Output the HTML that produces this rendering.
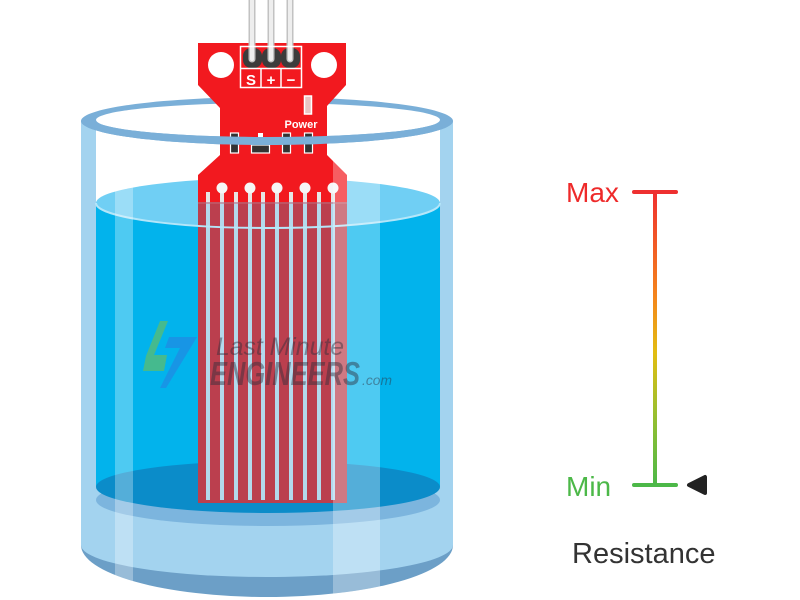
<!DOCTYPE html>
<html><head><meta charset="utf-8"><style>
html,body{margin:0;padding:0;background:#fff;}
svg{display:block;}
</style></head><body>
<svg width="800" height="600" viewBox="0 0 800 600" xmlns="http://www.w3.org/2000/svg">
<defs>
<linearGradient id="sc" gradientUnits="userSpaceOnUse" x1="0" y1="192" x2="0" y2="485">
<stop offset="0" stop-color="#ef2f2f"/>
<stop offset="0.36" stop-color="#f4861c"/>
<stop offset="0.55" stop-color="#e2bd12"/>
<stop offset="0.75" stop-color="#9cbf2e"/>
<stop offset="1" stop-color="#4cb848"/>
</linearGradient>
<clipPath id="glass"><path d="M81,121 L81,545 A186,52 0 0 0 453,545 L453,121 Z"/></clipPath>
</defs>

<!-- glass silhouette -->
<path d="M81,121 L81,545 A186,52 0 0 0 453,545 L453,121 Z" fill="#6c9fc7"/>
<path d="M81,121 L81,545 A186,32 0 0 0 453,545 L453,121 Z" fill="#a3d3ef"/>
<!-- interior above water -->
<rect x="96" y="118" width="344" height="90" fill="#ffffff"/>
<!-- rim ring (full) -->
<path d="M81,121 A186,24 0 0 1 453,121 A186,24 0 0 1 81,121 Z M96,120 A172,17 0 0 1 440,120 A172,17 0 0 1 96,120 Z" fill="#7aafd8" fill-rule="evenodd"/>

<!-- water -->
<ellipse cx="268" cy="500" rx="172" ry="26" fill="#7cb5de"/>
<rect x="96" y="203" width="344" height="284" fill="#02b3ec"/>
<ellipse cx="268" cy="487" rx="172" ry="26" fill="#0b8cc9"/>
<ellipse cx="268" cy="203" rx="172" ry="25" fill="#70cff4"/>

<!-- sensor board -->
<path d="M200,43 L346,43 L346,85 L327,106 L327,155 L347,175 L347,503 L198,503 L198,175 L220,155 L220,108 L198,85 L198,43 Z" fill="#f2191f"/>
<rect x="198" y="202" width="149" height="301" fill="#bb3f4e"/>

<!-- traces -->
<g stroke-width="4">
<g stroke="#e6e6e6">
<line x1="208" y1="192" x2="208" y2="202"/><line x1="222" y1="188" x2="222" y2="202"/>
<line x1="236" y1="192" x2="236" y2="202"/><line x1="250" y1="188" x2="250" y2="202"/>
<line x1="263" y1="192" x2="263" y2="202"/><line x1="277" y1="188" x2="277" y2="202"/>
<line x1="291" y1="192" x2="291" y2="202"/><line x1="305" y1="188" x2="305" y2="202"/>
<line x1="319" y1="192" x2="319" y2="202"/><line x1="333" y1="188" x2="333" y2="202"/>
</g>
<g stroke="#b3d9ec">
<line x1="208" y1="202" x2="208" y2="500"/><line x1="222" y1="202" x2="222" y2="500"/>
<line x1="236" y1="202" x2="236" y2="500"/><line x1="250" y1="202" x2="250" y2="500"/>
<line x1="263" y1="202" x2="263" y2="500"/><line x1="277" y1="202" x2="277" y2="500"/>
<line x1="291" y1="202" x2="291" y2="500"/><line x1="305" y1="202" x2="305" y2="500"/>
<line x1="319" y1="202" x2="319" y2="500"/><line x1="333" y1="202" x2="333" y2="500"/>
</g>
</g>
<g fill="#f6f6f6">
<circle cx="222" cy="188" r="5.5"/><circle cx="250" cy="188" r="5.5"/>
<circle cx="277" cy="188" r="5.5"/><circle cx="305" cy="188" r="5.5"/>
<circle cx="333" cy="188" r="5.5"/>
</g>
<rect x="198" y="202" width="149" height="2" fill="#c66a78" opacity="0.5"/>

<!-- water front surface line -->
<path d="M96,203 A172,25 0 0 0 440,203" fill="none" stroke="#b4e6f9" stroke-width="2"/>

<!-- glass highlight stripes -->
<g clip-path="url(#glass)" fill="#ffffff" opacity="0.3">
<rect x="115" y="150" width="18" height="460"/>
<rect x="333" y="150" width="47" height="460"/>
</g>

<!-- header details -->
<circle cx="221" cy="65" r="13" fill="#ffffff"/>
<circle cx="324" cy="65" r="13" fill="#ffffff"/>
<g fill="#3b3b3b">
<rect x="243" y="48" width="19" height="20" rx="8"/>
<rect x="262" y="48" width="19" height="20" rx="8"/>
<rect x="281" y="48" width="19" height="20" rx="8"/>
</g>
<g stroke="#c2c2c2" stroke-width="7" stroke-linecap="round">
<line x1="252" y1="-5" x2="252" y2="59"/><line x1="271" y1="-5" x2="271" y2="59"/><line x1="290" y1="-5" x2="290" y2="59"/>
</g>
<g stroke="#eeeeee" stroke-width="4" stroke-linecap="round">
<line x1="252" y1="-5" x2="252" y2="59"/><line x1="271" y1="-5" x2="271" y2="59"/><line x1="290" y1="-5" x2="290" y2="59"/>
</g>
<g fill="none" stroke="#ffffff" stroke-width="1.5">
<rect x="240.5" y="46.5" width="61" height="41"/>
<line x1="240" y1="68.5" x2="302" y2="68.5"/>
<line x1="261" y1="68" x2="261" y2="88"/>
<line x1="281" y1="68" x2="281" y2="88"/>
</g>
<g fill="#ffffff" font-family="Liberation Sans, sans-serif" font-weight="bold" font-size="15" text-anchor="middle">
<text x="251" y="85">S</text>
<text x="271" y="85">+</text>
<text x="291" y="85">−</text>
</g>
<rect x="304.5" y="96" width="7" height="18" fill="#e9c4c4" stroke="#ffffff" stroke-width="1.5"/>
<text x="301" y="128" fill="#ffffff" font-family="Liberation Sans, sans-serif" font-weight="bold" font-size="11" text-anchor="middle">Power</text>
<g fill="#333" stroke="#ffffff" stroke-width="1.2">
<rect x="230.5" y="133" width="8" height="20"/>
<rect x="251.5" y="145" width="18" height="8"/>
<rect x="282.5" y="133" width="8" height="20"/>
<rect x="304.5" y="133" width="8" height="20"/>
</g>
<rect x="258" y="133" width="5" height="8" fill="#ffffff"/>

<!-- rim front over sensor -->
<path d="M81,121 A186,24 0 0 0 453,121 L440,120 A172,17 0 0 1 96,120 Z" fill="#7aafd8"/>

<!-- watermark -->
<g opacity="0.55">
<polygon points="160,321 168,321 154,355 167,355 164,371 143,371 146,356" fill="#7cc142"/>
<polygon points="169,337 197,337 191,347 166,388 160,388 180,348 165,348" fill="#2a7de1"/>
</g>
<g fill="#2e2e3c" opacity="0.45" font-family="Liberation Sans, sans-serif" font-style="italic">
<text x="216" y="355" font-size="25" textLength="128" lengthAdjust="spacingAndGlyphs">Last Minute</text>
<text x="210" y="385" font-size="33" font-weight="bold" textLength="150" lengthAdjust="spacingAndGlyphs">ENGINEERS</text>
<text x="362" y="385" font-size="14" textLength="30" lengthAdjust="spacingAndGlyphs">.com</text>
</g>

<!-- resistance scale -->
<rect x="653" y="192" width="4" height="293" fill="url(#sc)"/>
<line x1="634" y1="192" x2="676" y2="192" stroke="#ee3030" stroke-width="4" stroke-linecap="round"/>
<line x1="634" y1="485" x2="676" y2="485" stroke="#4cb848" stroke-width="4" stroke-linecap="round"/>
<text x="566" y="202" fill="#ee2a2a" font-family="Liberation Sans, sans-serif" font-size="28">Max</text>
<text x="566" y="496" fill="#4cb848" font-family="Liberation Sans, sans-serif" font-size="28">Min</text>
<path d="M689,485 L705,477 L705,493 Z" fill="#222" stroke="#222" stroke-width="4" stroke-linejoin="round"/>
<text x="572" y="563" fill="#333333" font-family="Liberation Sans, sans-serif" font-size="29">Resistance</text>
</svg>
</body></html>
